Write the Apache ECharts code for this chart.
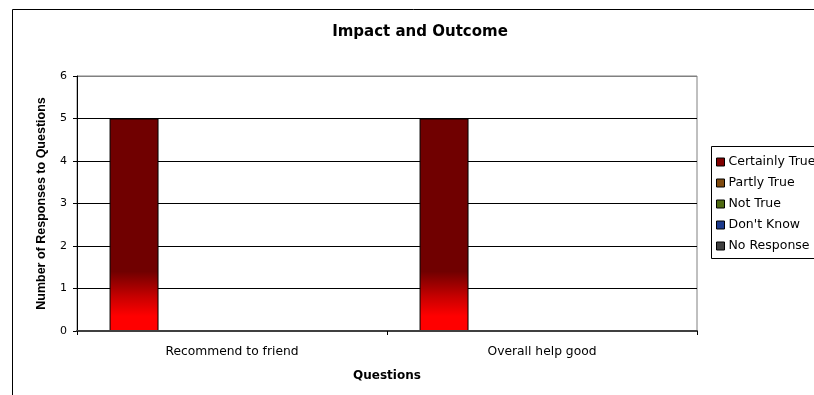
<!DOCTYPE html>
<html>
<head>
<meta charset="utf-8">
<script src="https://cdn.jsdelivr.net/npm/echarts@6/dist/echarts.min.js"></script>
<style>
  html, body { margin: 0; padding: 0; background: #fff; }
  #chart { width: 814px; height: 395px; }
</style>
</head>
<body>
<div id="chart"></div>
<script>
// Survey question categories and response counts
const questions = ['Recommend to friend', 'Overall help good'];
const seriesNames = ['Certainly True', 'Partly True', 'Not True', "Don't Know", 'No Response'];
const certainlyTrue = [5, 5];
const partlyTrue = [0, 0];
const notTrue = [0, 0];
const dontKnow = [0, 0];
const noResponse = [0, 0];
const yTicks = [0, 1, 2, 3, 4, 5, 6];

const seriesValues = [certainlyTrue, partlyTrue, notTrue, dontKnow, noResponse];
const swatches = ['#800000', '#7f4a0f', '#4f6a12', '#1c3a8c', '#404040'];

const FONT = '"DejaVu Sans", "Liberation Sans", sans-serif';
const FONT_V = '"Liberation Sans", Arial, sans-serif';

// Dark red fading to bright red near the base of each bar
const redFill = new echarts.graphic.LinearGradient(0, 0, 0, 1, [
  { offset: 0, color: '#700000' },
  { offset: 0.72, color: '#700000' },
  { offset: 0.84, color: '#c80000' },
  { offset: 0.93, color: '#ff0000' },
  { offset: 1, color: '#ff0000' }
]);

const chart = echarts.init(document.getElementById('chart'), null, { renderer: 'canvas' });

chart.setOption({
  backgroundColor: '#fff',
  animation: false,
  title: {
    text: 'Impact and Outcome',
    left: 420,
    textAlign: 'center',
    top: 25,
    padding: 0,
    textStyle: { fontFamily: FONT, fontSize: 15, fontWeight: 'bold', color: '#000' }
  },
  graphic: [
    {
      type: 'rect',
      shape: { x: 12.5, y: 9.5, width: 900, height: 500 },
      style: { fill: 'none', stroke: '#000', lineWidth: 1 },
      z: -1
    },
    {
      type: 'rect',
      shape: { x: 711.5, y: 146.5, width: 200, height: 112 },
      style: { fill: '#fff', stroke: '#000', lineWidth: 1 },
      z: 0
    }
  ],
  legend: {
    orient: 'vertical',
    left: 716,
    top: 155,
    padding: 0,
    itemWidth: 8,
    itemHeight: 8,
    itemGap: 7,
    icon: 'rect',
    z: 5,
    textStyle: { fontFamily: FONT, fontSize: 12.5, color: '#000', lineHeight: 14, padding: [0, 0, 0, -1] },
    data: seriesNames.map((n, i) => ({
      name: n,
      itemStyle: { color: swatches[i], borderColor: '#000', borderWidth: 1 }
    }))
  },
  grid: { left: 77, right: 117, top: 76, bottom: 64, show: true, borderColor: '#808080', borderWidth: 1 },
  xAxis: {
    type: 'category',
    data: questions,
    z: 3,
    name: 'Questions',
    nameLocation: 'middle',
    nameGap: 39,
    nameTextStyle: { fontFamily: FONT, fontSize: 12, fontWeight: 'bold', color: '#000' },
    axisLine: { lineStyle: { color: '#404040', width: 2 } },
    axisTick: { show: true, length: 4, lineStyle: { color: '#000' } },
    axisLabel: { fontFamily: FONT, fontSize: 12.3, color: '#000', margin: 15 },
    splitLine: { show: false }
  },
  yAxis: {
    type: 'value',
    min: yTicks[0],
    max: yTicks[yTicks.length - 1],
    interval: 1,
    name: 'Number of Responses to Questions',
    nameLocation: 'middle',
    nameGap: 29,
    nameTextStyle: { fontFamily: FONT_V, fontSize: 12.5, fontWeight: 'bold', color: '#000' },
    axisLine: { show: true, lineStyle: { color: '#000', width: 1 } },
    axisTick: { show: true, length: 4, lineStyle: { color: '#000' } },
    axisLabel: { fontFamily: FONT, fontSize: 11, color: '#000', margin: 10 },
    splitLine: { show: true, lineStyle: { color: ['#404040', '#000', '#000', '#000', '#000', '#000', '#808080'], width: 1 } }
  },
  series: seriesNames.map((n, i) => ({
    name: n,
    type: 'bar',
    data: seriesValues[i],
    barGap: '0%',
    barCategoryGap: '21%',
    itemStyle: {
      color: i === 0 ? redFill : swatches[i],
      borderColor: '#000',
      borderWidth: 1
    }
  }))
});
</script>
</body>
</html>
